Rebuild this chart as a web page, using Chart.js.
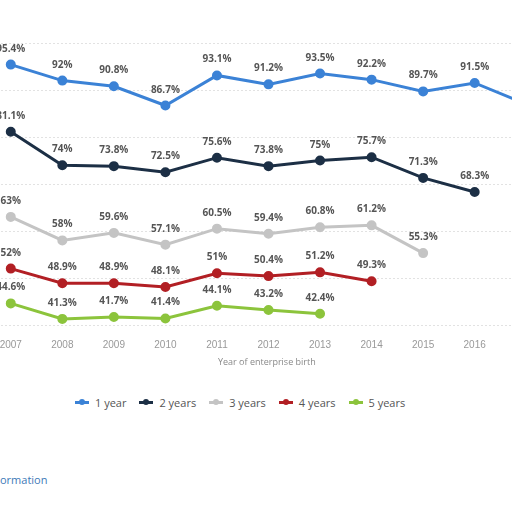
<!DOCTYPE html>
<html><head><meta charset="utf-8">
<script src="https://cdn.jsdelivr.net/npm/chart.js@4"></script>
<style>
body{margin:0;width:512px;height:512px;overflow:hidden;background:#fff;font-family:"Open Sans",sans-serif;position:relative}
#wrap{position:absolute;left:-22px;top:0;width:581px;height:357px}
#xt{position:absolute;top:355px;left:218px;font-size:9px;color:#888}
#leg{position:absolute;top:395px;left:75px;font-size:11px;color:#555;display:flex;gap:13px}
#leg span{display:flex;align-items:center;gap:6px}
#leg i{display:inline-block;width:14px;height:3px;position:relative}
#leg i:after{content:"";position:absolute;left:4px;top:-2px;width:6px;height:6px;border-radius:50%;background:inherit}
#info{position:absolute;left:0;top:472px;font-size:11px;color:#3d7ab8}
</style></head><body>
<div id="wrap"><canvas id="c"></canvas></div>
<div id="xt">Year of enterprise birth</div>
<div id="leg"></div>
<div id="info">ormation</div>
<script>
const years=["2007","2008","2009","2010","2011","2012","2013","2014","2015","2016","2017"];
const oneYear=[95.4,92,90.8,86.7,93.1,91.2,93.5,92.2,89.7,91.5,87];
const twoYears=[81.1,74,73.8,72.5,75.6,73.8,75,75.7,71.3,68.3,null];
const threeYears=[63,58,59.6,57.1,60.5,59.4,60.8,61.2,55.3,null,null];
const fourYears=[52,48.9,48.9,48.1,51,50.4,51.2,49.3,null,null,null];
const fiveYears=[44.6,41.3,41.7,41.4,44.1,43.2,42.4,null,null,null,null];
const names=["1 year","2 years","3 years","4 years","5 years"];
const colors=["#3b82d6","#1c2f45","#c4c4c4","#b21f24","#8cc43c"];
const series=[oneYear,twoYears,threeYears,fourYears,fiveYears];
document.getElementById('leg').innerHTML=names.map((n,i)=>`<span><i style="background:${colors[i]}"></i>${n}</span>`).join('');
const labelPlugin={id:'lbl',afterDatasetsDraw(ch){const ctx=ch.ctx;ctx.save();ctx.font='bold 10px "Open Sans"';ctx.fillStyle='#555';ctx.textAlign='center';
ch.data.datasets.forEach((d,di)=>{ch.getDatasetMeta(di).data.forEach((p,i)=>{if(d.data[i]==null||i>9)return;ctx.fillText(d.data[i]+'%',p.x,p.y-13);});});ctx.restore();}};
new Chart(document.getElementById('c'),{type:'line',
data:{labels:years,datasets:series.map((s,i)=>({label:names[i],data:s,borderColor:colors[i],backgroundColor:colors[i],borderWidth:3,pointRadius:3.5,tension:0}))},
options:{responsive:true,maintainAspectRatio:false,animation:false,layout:{padding:{top:43,left:0}},
plugins:{legend:{display:false},tooltip:{enabled:false}},
scales:{y:{display:true,min:40,max:100,afterFit(s){s.width=0;},ticks:{display:false,stepSize:10},border:{display:false},grid:{color:'#e2e2e2',drawTicks:false,tickLength:0},border:{display:false,dash:[2,2]}},
x:{offset:true,grid:{display:false},border:{display:false},ticks:{color:'#999',font:{size:10},padding:6}}}},
plugins:[labelPlugin]});
</script></body></html>
